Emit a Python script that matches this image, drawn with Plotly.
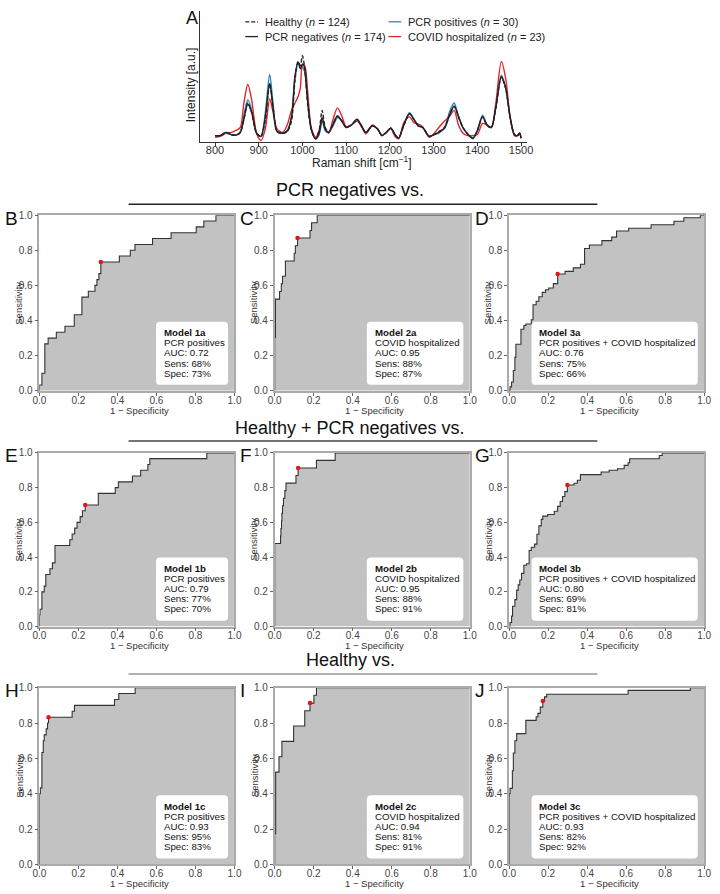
import plotly.graph_objects as go

W, H = 720, 894
FONT = "Liberation Sans, Arial, Helvetica, sans-serif"

# ---------------- Panel A: mean Raman spectra ----------------
wavenumber = [800, 812, 825, 838, 850, 858, 866, 875, 884, 895,
              905, 915, 925, 933, 942, 955, 965, 975, 983, 990,
              995, 1000, 1005, 1012, 1020, 1030, 1038, 1045, 1052, 1060,
              1070, 1080, 1090, 1100, 1112, 1125, 1135, 1145, 1160, 1172,
              1182, 1192, 1202, 1212, 1220, 1232, 1245, 1255, 1265, 1275,
              1290, 1300, 1312, 1325, 1337, 1347, 1357, 1367, 1378, 1390,
              1400, 1412, 1422, 1432, 1442, 1455, 1465, 1475, 1485, 1492,
              1497, 1500]
healthy = [0.02, 0.02, 0.06, 0.03, 0.03, 0.06, 0.22, 0.42, 0.30, 0.05,
           0.01, 0.20, 0.66, 0.35, 0.07, 0.05, 0.07, 0.20, 0.70, 0.93,
           0.88, 1.00, 0.85, 0.40, 0.10, -0.02, 0.08, 0.33, 0.12, 0.06,
           0.16, 0.26, 0.20, 0.12, 0.15, 0.22, 0.14, 0.06, 0.14, 0.10,
           0.02, 0.06, 0.11, 0.03, -0.01, 0.15, 0.29, 0.22, 0.14, 0.12,
           0.01, 0.03, 0.07, 0.12, 0.28, 0.38, 0.25, 0.12, 0.04, -0.01,
           0.08, 0.25, 0.15, 0.12, 0.35, 0.74, 0.60, 0.25, 0.03, 0.02,
           0.05, -0.01]
pcr_negatives = [0.02, 0.02, 0.06, 0.03, 0.03, 0.06, 0.22, 0.41, 0.30, 0.05,
                 0.01, 0.25, 0.66, 0.35, 0.07, 0.05, 0.08, 0.25, 0.75, 0.92,
                 0.84, 0.90, 0.85, 0.45, 0.10, -0.02, 0.05, 0.24, 0.10, 0.06,
                 0.16, 0.26, 0.20, 0.12, 0.15, 0.22, 0.14, 0.06, 0.14, 0.10,
                 0.02, 0.06, 0.11, 0.03, -0.01, 0.15, 0.29, 0.22, 0.14, 0.12,
                 0.01, 0.03, 0.06, 0.11, 0.28, 0.38, 0.25, 0.12, 0.04, -0.01,
                 0.08, 0.25, 0.15, 0.12, 0.35, 0.74, 0.60, 0.25, 0.03, 0.02,
                 0.05, -0.01]
pcr_positives = [0.02, 0.02, 0.05, 0.03, 0.03, 0.07, 0.27, 0.46, 0.33, 0.05,
                 0.01, 0.30, 0.77, 0.40, 0.07, 0.05, 0.07, 0.25, 0.75, 0.92,
                 0.88, 0.86, 0.80, 0.45, 0.10, -0.02, 0.03, 0.20, 0.08, 0.06,
                 0.14, 0.24, 0.20, 0.12, 0.15, 0.22, 0.14, 0.06, 0.14, 0.10,
                 0.02, 0.06, 0.11, 0.03, -0.01, 0.16, 0.30, 0.22, 0.14, 0.12,
                 0.01, 0.03, 0.05, 0.12, 0.32, 0.42, 0.26, 0.12, 0.04, -0.02,
                 0.08, 0.27, 0.16, 0.12, 0.36, 0.76, 0.60, 0.25, 0.03, 0.02,
                 0.05, -0.01]
covid_hospitalized = [0.00, 0.01, 0.05, 0.06, 0.09, 0.12, 0.42, 0.65, 0.45, 0.05,
                      -0.04, 0.10, 0.47, 0.30, 0.10, 0.06, 0.15, 0.33, 0.42, 0.50,
                      0.60, 0.88, 0.88, 0.55, 0.12, 0.00, 0.08, 0.23, 0.12, 0.05,
                      0.22, 0.36, 0.26, 0.13, 0.15, 0.20, 0.13, 0.04, 0.15, 0.10,
                      0.02, 0.06, 0.11, 0.01, -0.02, 0.18, 0.25, 0.18, 0.16, 0.13,
                      0.00, 0.04, 0.12, 0.20, 0.26, 0.33, 0.15, 0.05, 0.02, 0.02,
                      0.03, 0.17, 0.15, 0.12, 0.40, 0.93, 0.72, 0.25, 0.02, 0.02,
                      0.04, -0.01]
spectrum_ticks = [800, 900, 1000, 1100, 1200, 1300, 1400, 1500]
legend_labels = ["Healthy (<i>n</i> = 124)", "PCR negatives (<i>n</i> = 174)",
                 "PCR positives (<i>n</i> = 30)", "COVID hospitalized (<i>n</i> = 23)"]

# ---------------- ROC curves (rise points, drawn as steps) ----------------
fpr_1a = [0, 0, 0.013, 0.028, 0.045, 0.087, 0.131, 0.179, 0.218, 0.251, 0.285, 0.295, 0.305, 0.315,
          0.410, 0.466, 0.490, 0.580, 0.675, 0.804, 0.843, 0.905, 1.0]
tpr_1a = [0, 0.033, 0.1, 0.267, 0.3, 0.333, 0.367, 0.433, 0.533, 0.567, 0.6, 0.633, 0.667, 0.733,
          0.767, 0.8, 0.833, 0.867, 0.9, 0.933, 0.967, 1.0, 1.0]
fpr_2a = [0, 0, 0.004, 0.025, 0.034, 0.040, 0.055, 0.100, 0.106, 0.117, 0.181, 0.189, 0.218, 1.0]
tpr_2a = [0, 0.304, 0.522, 0.565, 0.609, 0.652, 0.739, 0.783, 0.826, 0.870, 0.913, 0.957, 1.0, 1.0]
fpr_3a = [0, 0.005, 0.013, 0.022, 0.030, 0.035, 0.061, 0.076, 0.086, 0.114, 0.123, 0.139, 0.153, 0.170,
          0.187, 0.203, 0.227, 0.249, 0.287, 0.329, 0.366, 0.387, 0.412, 0.476, 0.526, 0.551, 0.613,
          0.728, 0.845, 0.896, 0.98, 1.0]
tpr_3a = [0, 0.022, 0.05, 0.115, 0.19, 0.265, 0.35, 0.372, 0.38, 0.404, 0.49, 0.51, 0.535, 0.56,
          0.575, 0.585, 0.61, 0.665, 0.68, 0.70, 0.72, 0.81, 0.83, 0.855, 0.875, 0.91, 0.925,
          0.945, 0.965, 0.985, 1.0, 1.0]
fpr_1b = [0, 0, 0.003, 0.013, 0.025, 0.033, 0.054, 0.067, 0.080, 0.156, 0.168, 0.181, 0.193, 0.209,
          0.221, 0.235, 0.302, 0.389, 0.405, 0.477, 0.519, 0.556, 0.566, 0.858, 1.0]
tpr_1b = [0, 0.067, 0.1, 0.2, 0.233, 0.3, 0.333, 0.367, 0.467, 0.5, 0.533, 0.567, 0.6, 0.633,
          0.667, 0.70, 0.767, 0.80, 0.833, 0.867, 0.90, 0.933, 0.967, 1.0, 1.0]
fpr_2b = [0, 0, 0.030, 0.032, 0.035, 0.037, 0.040, 0.045, 0.052, 0.058, 0.109, 0.120, 0.214, 0.310, 1.0]
tpr_2b = [0, 0.478, 0.522, 0.565, 0.609, 0.652, 0.696, 0.739, 0.783, 0.826, 0.870, 0.913, 0.957, 1.0, 1.0]
fpr_3b = [0, 0.005, 0.013, 0.018, 0.030, 0.039, 0.047, 0.055, 0.064, 0.076, 0.089, 0.103, 0.114, 0.131,
          0.143, 0.153, 0.165, 0.173, 0.198, 0.232, 0.249, 0.262, 0.274, 0.286, 0.299, 0.333, 0.350,
          0.366, 0.472, 0.513, 0.556, 0.590, 0.610, 0.618, 0.770, 0.785, 1.0]
tpr_3b = [0, 0.023, 0.06, 0.117, 0.155, 0.21, 0.24, 0.268, 0.306, 0.353, 0.362, 0.438, 0.457, 0.475,
          0.532, 0.58, 0.617, 0.636, 0.645, 0.664, 0.692, 0.72, 0.749, 0.777, 0.815, 0.825, 0.843,
          0.875, 0.89, 0.90, 0.909, 0.928, 0.943, 0.966, 0.985, 1.0, 1.0]
fpr_1c = [0, 0, 0.005, 0.013, 0.020, 0.025, 0.035, 0.042, 0.047, 0.168, 0.180, 0.385, 0.407, 0.491, 1.0]
tpr_1c = [0, 0.4, 0.433, 0.633, 0.7, 0.733, 0.767, 0.8, 0.833, 0.867, 0.9, 0.933, 0.967, 1.0, 1.0]
fpr_2c = [0, 0, 0.005, 0.022, 0.037, 0.097, 0.154, 0.181, 0.201, 0.214, 1.0]
tpr_2c = [0, 0.174, 0.522, 0.609, 0.696, 0.783, 0.870, 0.913, 0.957, 1.0, 1.0]
fpr_3c = [0, 0, 0.005, 0.017, 0.022, 0.030, 0.039, 0.086, 0.139, 0.148, 0.160, 0.173, 0.182, 0.193,
          0.610, 0.929, 1.0]
tpr_3c = [0, 0.40, 0.43, 0.53, 0.63, 0.70, 0.74, 0.815, 0.836, 0.855, 0.89, 0.925, 0.948, 0.963,
          0.985, 1.0, 1.0]

# optimal operating points (fpr, tpr)
op_fpr = [0.315, 0.117, 0.249, 0.235, 0.120, 0.299, 0.047, 0.181, 0.173]
op_tpr = [0.733, 0.870, 0.665, 0.700, 0.913, 0.815, 0.833, 0.913, 0.925]

model_ids = ["1a", "2a", "3a", "1b", "2b", "3b", "1c", "2c", "3c"]
model_groups = ["PCR positives", "COVID hospitalized", "PCR positives + COVID hospitalized"] * 3
model_auc = ["0.72", "0.95", "0.76", "0.79", "0.95", "0.80", "0.93", "0.94", "0.93"]
model_sens = ["68%", "88%", "75%", "77%", "88%", "69%", "95%", "81%", "82%"]
model_spec = ["73%", "87%", "66%", "70%", "91%", "81%", "83%", "91%", "92%"]
panel_letters = ["B", "C", "D", "E", "F", "G", "H", "I", "J"]
section_titles = ["PCR negatives vs.", "Healthy + PCR negatives vs.", "Healthy vs."]
roc_ticks = [0, 0.2, 0.4, 0.6, 0.8, 1.0]

roc_fpr = [fpr_1a, fpr_2a, fpr_3a, fpr_1b, fpr_2b, fpr_3b, fpr_1c, fpr_2c, fpr_3c]
roc_tpr = [tpr_1a, tpr_2a, tpr_3a, tpr_1b, tpr_2b, tpr_3b, tpr_1c, tpr_2c, tpr_3c]

# ---------------- layout geometry (pixels) ----------------
def px_x(px):
    return px / W


def px_y(py):
    return 1 - py / H


col_px = [(33, 232), (273, 472), (512, 711)]
row_px = [(212, 390), (453, 629), (691, 870)]
title_y = [187, 428, 663]
title_x = 350
rule_y = [201, 441, 677]
rule_col = ["#222222", "#444444", "#999999"]
box_left_px = [119, 94, 23]   # box left offset from plot left, per column

fig = go.Figure()
annotations = []
shapes = []

layout = dict(
    width=W, height=H, margin=dict(l=0, r=0, t=0, b=0),
    paper_bgcolor="white", plot_bgcolor="white", showlegend=False,
    font=dict(family=FONT, color="#222222"),
)

# Panel A
spec_colors = ["#222222", "#222222", "#2a86bf", "#e0262b"]
spec_dash = ["4px,2px", "solid", "solid", "solid"]
spec_series = [healthy, pcr_negatives, pcr_positives, covid_hospitalized]
draw_order = [2, 3, 1, 0]
for k in draw_order:
    fig.add_trace(go.Scatter(x=wavenumber, y=spec_series[k], mode="lines",
                             line=dict(color=spec_colors[k], width=1.4, dash=spec_dash[k],
                                       shape="spline", smoothing=0.8),
                             xaxis="x", yaxis="y", hoverinfo="skip"))
layout["xaxis"] = dict(domain=[px_x(197), px_x(530)], range=[766, 1513], tickvals=spectrum_ticks,
                       ticks="outside", ticklen=3, tickcolor="#333", tickfont=dict(size=11, color="#333"),
                       ticklabelstandoff=-5,
                       showline=True, linecolor="#333", linewidth=1, showgrid=False, zeroline=False,
                       anchor="y")
layout["yaxis"] = dict(domain=[px_y(138), px_y(5)], range=[-0.06, 1.55], showticklabels=False,
                       ticks="", showline=True, linecolor="#333", linewidth=1, showgrid=False,
                       zeroline=False, anchor="x")
annotations.append(dict(text="A", x=px_x(189), y=px_y(12), xref="paper", yref="paper",
                        showarrow=False, font=dict(size=18, color="#111"), xanchor="center", yanchor="middle"))
annotations.append(dict(text="Intensity [a.u.]", x=px_x(188), y=px_y(80), xref="paper", yref="paper",
                        showarrow=False, textangle=-90, font=dict(size=12, color="#222"),
                        xanchor="center", yanchor="middle"))
annotations.append(dict(text="Raman shift [cm<sup>−1</sup>]", x=px_x(362), y=px_y(158), xref="paper",
                        yref="paper", showarrow=False, font=dict(size=12, color="#222"),
                        xanchor="center", yanchor="middle"))
# legend (manual, two columns)
leg_pos = [(243, 16), (243, 31), (389, 16), (389, 31)]
for k, (lx, ly) in enumerate(leg_pos):
    shapes.append(dict(type="line", xref="paper", yref="paper", x0=px_x(lx), x1=px_x(lx + 13),
                       y0=px_y(ly), y1=px_y(ly),
                       line=dict(color=spec_colors[k], width=1.3, dash=spec_dash[k])))
    annotations.append(dict(text=legend_labels[k], x=px_x(lx + 18), y=px_y(ly), xref="paper", yref="paper",
                            showarrow=False, font=dict(size=11, color="#222"), xanchor="left", yanchor="middle"))

# ROC panels
for i in range(9):
    r, c = divmod(i, 3)
    ax = i + 2
    xl, xr = col_px[c]
    yt, yb = row_px[r]
    xname, yname = f"x{ax}", f"y{ax}"
    layout[f"xaxis{ax}"] = dict(domain=[px_x(xl), px_x(xr)], range=[0, 1], tickvals=roc_ticks,
                                tickformat=".1f", ticks="outside", ticklen=3, tickcolor="#666",
                                tickfont=dict(size=10, color="#444"), ticklabelstandoff=-4,
                                showline=True, mirror=True,
                                linecolor="#aaaaaa", linewidth=1.5, showgrid=False, zeroline=False,
                                anchor=yname)
    layout[f"yaxis{ax}"] = dict(domain=[px_y(yb), px_y(yt)], range=[0, 1], tickvals=roc_ticks,
                                tickformat=".1f", ticks="outside", ticklen=3, tickcolor="#666",
                                tickfont=dict(size=10, color="#444"), showline=True, mirror=True,
                                linecolor="#aaaaaa", linewidth=1.5, showgrid=False, zeroline=False,
                                anchor=xname)
    fig.add_trace(go.Scatter(x=roc_fpr[i], y=roc_tpr[i], mode="lines",
                             line=dict(color="#333333", width=1.1, shape="hv"),
                             fill="tozeroy", fillcolor="#c2c2c2", xaxis=xname, yaxis=yname,
                             hoverinfo="skip"))
    fig.add_trace(go.Scatter(x=[op_fpr[i]], y=[op_tpr[i]], mode="markers",
                             marker=dict(color="#e3141b", size=4.5), xaxis=xname, yaxis=yname,
                             hoverinfo="skip"))
    # axis titles
    annotations.append(dict(text="Sensitivity", x=px_x(xl - 21), y=px_y((yt + yb) / 2), xref="paper",
                            yref="paper", showarrow=False, textangle=-90, font=dict(size=9.5, color="#333"),
                            xanchor="center", yanchor="middle"))
    annotations.append(dict(text="1 − Specificity", x=px_x(xl + 102), y=px_y(yb + 19.5), xref="paper",
                            yref="paper", showarrow=False, font=dict(size=9.5, color="#333"),
                            xanchor="center", yanchor="middle"))
    # panel letter
    annotations.append(dict(text=panel_letters[i], x=px_x(xl - 37), y=px_y(yt + 3), xref="paper",
                            yref="paper", showarrow=False, font=dict(size=19, color="#111"),
                            xanchor="left", yanchor="middle"))
    # text box
    wpx = xr - xl
    hpx = yb - yt
    bx0 = box_left_px[c] / wpx
    bx1 = 0.967
    by0 = 6 / hpx
    by1 = 70 / hpx
    rx = 4 / wpx
    ry = 4 / hpx
    path = (f"M {bx0 + rx},{by0} L {bx1 - rx},{by0} Q {bx1},{by0} {bx1},{by0 + ry} "
            f"L {bx1},{by1 - ry} Q {bx1},{by1} {bx1 - rx},{by1} L {bx0 + rx},{by1} "
            f"Q {bx0},{by1} {bx0},{by1 - ry} L {bx0},{by0 + ry} Q {bx0},{by0} {bx0 + rx},{by0} Z")
    shapes.append(dict(type="path", path=path, xref=xname, yref=yname, fillcolor="white",
                       line=dict(color="white", width=0), layer="above"))
    lines = [f"<b>Model {model_ids[i]}</b>", model_groups[i], f"AUC: {model_auc[i]}",
             f"Sens: {model_sens[i]}", f"Spec: {model_spec[i]}"]
    for j, t in enumerate(lines):
        annotations.append(dict(text=t, x=bx0 + 6 / wpx, y=(59 - 10.3 * j) / hpx, xref=xname, yref=yname,
                                showarrow=False, font=dict(size=9.7, color="#111"),
                                xanchor="left", yanchor="middle"))

# section titles + rules
for r in range(3):
    annotations.append(dict(text=section_titles[r], x=px_x(title_x), y=px_y(title_y[r]), xref="paper",
                            yref="paper", showarrow=False, font=dict(size=18, color="#111"),
                            xanchor="center", yanchor="middle"))
    shapes.append(dict(type="line", xref="paper", yref="paper", x0=px_x(124), x1=px_x(602),
                       y0=px_y(rule_y[r]), y1=px_y(rule_y[r]), line=dict(color=rule_col[r], width=1.5)))

layout["annotations"] = annotations
layout["shapes"] = shapes
fig.update_layout(**layout)
fig.write_html("out.html")
